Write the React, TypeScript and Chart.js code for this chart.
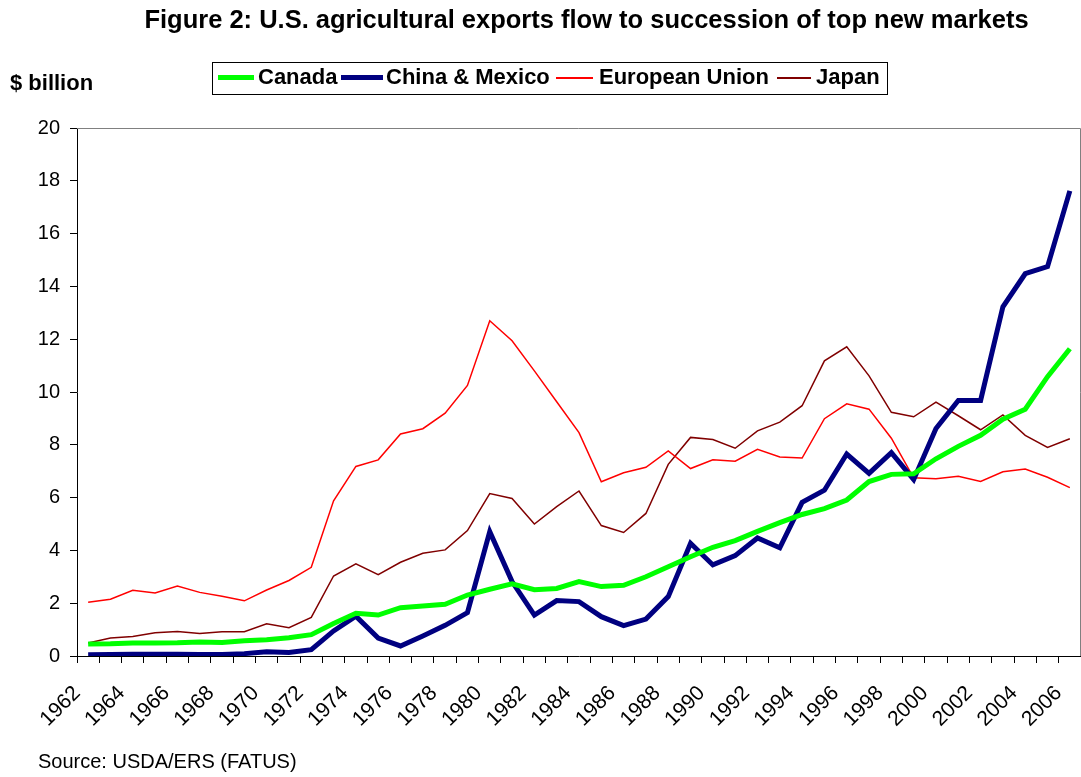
import React, { useEffect, useRef } from "react";
import { Chart, registerables } from "chart.js";

Chart.register(...registerables);

const years: string[] = [
  "1962","1963","1964","1965","1966","1967","1968","1969","1970","1971",
  "1972","1973","1974","1975","1976","1977","1978","1979","1980","1981",
  "1982","1983","1984","1985","1986","1987","1988","1989","1990","1991",
  "1992","1993","1994","1995","1996","1997","1998","1999","2000","2001",
  "2002","2003","2004","2005","2006",
];

const canada: number[] = [
  0.45, 0.46, 0.49, 0.49, 0.5, 0.53, 0.51, 0.58, 0.62, 0.69,
  0.81, 1.23, 1.62, 1.55, 1.83, 1.89, 1.96, 2.31, 2.53, 2.73,
  2.51, 2.56, 2.82, 2.63, 2.68, 3.0, 3.38, 3.76, 4.12, 4.37,
  4.72, 5.05, 5.36, 5.58, 5.91, 6.61, 6.88, 6.9, 7.47, 7.94,
  8.36, 8.97, 9.35, 10.58, 11.64,
];

const chinaMexico: number[] = [
  0.05, 0.06, 0.07, 0.07, 0.07, 0.06, 0.06, 0.09, 0.16, 0.13,
  0.24, 0.95, 1.51, 0.68, 0.38, 0.76, 1.16, 1.64, 4.71, 2.82,
  1.55, 2.1, 2.06, 1.49, 1.15, 1.4, 2.25, 4.27, 3.45, 3.8,
  4.47, 4.1, 5.82, 6.28, 7.65, 6.92, 7.7, 6.68, 8.62, 9.68,
  9.68, 13.23, 14.48, 14.75, 17.62,
];

const europeanUnion: number[] = [
  2.04, 2.15, 2.49, 2.39, 2.65, 2.41, 2.26, 2.09, 2.5, 2.86,
  3.36, 5.88, 7.18, 7.43, 8.41, 8.61, 9.2, 10.25, 12.7, 11.94,
  10.8, 9.63, 8.46, 6.6, 6.94, 7.15, 7.77, 7.1, 7.43, 7.38,
  7.83, 7.54, 7.5, 8.99, 9.55, 9.35, 8.25, 6.75, 6.71, 6.81,
  6.61, 6.98, 7.08, 6.77, 6.38,
];

const japan: number[] = [
  0.49, 0.68, 0.74, 0.88, 0.93, 0.85, 0.92, 0.92, 1.22, 1.07,
  1.46, 3.03, 3.49, 3.08, 3.55, 3.89, 4.02, 4.75, 6.15, 5.97,
  5.0, 5.66, 6.25, 4.94, 4.68, 5.4, 7.26, 8.28, 8.2, 7.87,
  8.53, 8.86, 9.48, 11.18, 11.71, 10.61, 9.23, 9.06, 9.62, 9.1,
  8.57, 9.13, 8.36, 7.9, 8.23,
];

const seriesNames: string[] = ["Canada", "China & Mexico", "European Union", "Japan"];
const seriesColors: string[] = ["#00FF00", "#000080", "#FF0000", "#800000"];
const seriesWidths: number[] = [5, 5, 1.5, 1.5];

const titleText = "Figure 2: U.S. agricultural exports flow to succession of top new markets";
const unitText = "$ billion";
const sourceText = "Source: USDA/ERS (FATUS)";

const FONT = "Arial, 'Liberation Sans', sans-serif";

// legend layout (pixel positions of sample lines and labels)
const legendLineLeft = [218, 341, 556, 777];
const legendLineWidth = [36, 42, 37, 34];
const legendTextLeft = [258, 386, 599, 816];

const frameLines = {
  id: "frameLines",
  afterDraw(chart: any) {
    const { ctx, chartArea } = chart;
    ctx.save();
    ctx.strokeStyle = "#808080";
    ctx.lineWidth = 1;
    ctx.beginPath();
    ctx.moveTo(chartArea.left, chartArea.top + 0.5);
    ctx.lineTo(chartArea.right - 0.5, chartArea.top + 0.5);
    ctx.lineTo(chartArea.right - 0.5, chartArea.bottom);
    ctx.stroke();
    ctx.restore();
  },
};

// rotated year labels, anchored at the end of the text (baseline, right end)
const yearLabels = {
  id: "yearLabels",
  afterDraw(chart: any) {
    const { ctx, chartArea } = chart;
    const xScale = chart.scales.x;
    ctx.save();
    ctx.fillStyle = "#000000";
    ctx.font = `21px ${FONT}`;
    ctx.textAlign = "right";
    ctx.textBaseline = "alphabetic";
    years.forEach((label, i) => {
      if (i % 2 !== 0) return;
      const px = xScale.getPixelForTick(i);
      ctx.save();
      ctx.translate(px - 7, chartArea.bottom + 38);
      ctx.rotate(-Math.PI / 4);
      ctx.fillText(label, 0, 0);
      ctx.restore();
    });
    ctx.restore();
  },
};

export default function App() {
  const canvasRef = useRef<HTMLCanvasElement | null>(null);

  useEffect(() => {
    if (!canvasRef.current) return;
    const allData = [canada, chinaMexico, europeanUnion, japan];
    const chart = new Chart(canvasRef.current, {
      type: "line",
      data: {
        labels: years,
        datasets: allData.map((d, i) => ({
          label: seriesNames[i],
          data: d,
          borderColor: seriesColors[i],
          backgroundColor: seriesColors[i],
          borderWidth: seriesWidths[i],
          pointRadius: 0,
          tension: 0,
          fill: false,
          borderJoinStyle: "miter" as const,
        })),
      },
      options: {
        responsive: false,
        animation: false,
        layout: { padding: { top: 128, left: 0, right: 0, bottom: 0 } },
        plugins: {
          legend: { display: false },
          title: { display: false },
          tooltip: { enabled: false },
        },
        scales: {
          x: {
            type: "category",
            offset: true,
            grid: {
              offset: true,
              drawOnChartArea: false,
              drawTicks: true,
              tickLength: 7,
              color: "#000000",
            },
            border: { display: true, color: "#000000", width: 1 },
            ticks: {
              display: false,
              autoSkip: false,
            },
            afterFit: (scale: any) => {
              scale.height = 121;
              scale.paddingLeft = 0;
              scale.paddingRight = 0;
            },
          },
          y: {
            min: 0,
            max: 20,
            grid: {
              drawOnChartArea: false,
              drawTicks: true,
              tickLength: 7,
              color: "#000000",
            },
            border: { display: true, color: "#000000", width: 1 },
            ticks: {
              stepSize: 2,
              padding: 10,
              color: "#000000",
              font: { family: FONT, size: 20 },
            },
            afterFit: (scale: any) => {
              scale.width = 77;
            },
          },
        },
      },
      plugins: [frameLines, yearLabels],
    });
    return () => chart.destroy();
  }, []);

  return (
    <div style={{ position: "absolute", left: 0, top: 0, width: 1081, height: 777, background: "#fff", fontFamily: FONT, color: "#000" }}>
      <canvas ref={canvasRef} width={1081} height={777} style={{ position: "absolute", left: 0, top: 0 }} />
      <div
        style={{
          position: "absolute",
          left: 0,
          width: 1173,
          top: 5,
          textAlign: "center",
          fontWeight: "bold",
          fontSize: 25.5,
          whiteSpace: "nowrap",
        }}
      >
        {titleText}
      </div>
      <div style={{ position: "absolute", left: 10, top: 70, fontWeight: "bold", fontSize: 22, whiteSpace: "nowrap" }}>
        {unitText}
      </div>
      <div
        style={{
          position: "absolute",
          left: 212,
          top: 62,
          width: 676,
          height: 33,
          border: "1px solid #000",
          boxSizing: "border-box",
        }}
      />
      {seriesNames.map((name, i) => (
        <React.Fragment key={name}>
          <div
            style={{
              position: "absolute",
              left: legendLineLeft[i],
              top: seriesWidths[i] > 2 ? 75 : 77,
              width: legendLineWidth[i],
              height: seriesWidths[i] > 2 ? 5 : 2,
              background: seriesColors[i],
            }}
          />
          <div
            style={{
              position: "absolute",
              left: legendTextLeft[i],
              top: 64,
              fontWeight: "bold",
              fontSize: 22,
              whiteSpace: "nowrap",
            }}
          >
            {name}
          </div>
        </React.Fragment>
      ))}
      <div style={{ position: "absolute", left: 38, top: 750, fontSize: 20, whiteSpace: "nowrap" }}>{sourceText}</div>
    </div>
  );
}
